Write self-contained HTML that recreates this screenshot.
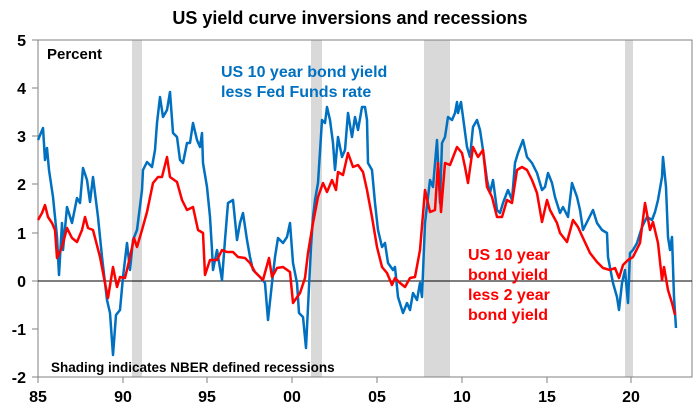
<!DOCTYPE html>
<html><head><meta charset="utf-8"><style>
body{margin:0;background:#fff;}
svg{display:block;font-family:"Liberation Sans",Arial,sans-serif;}
</style></head><body>
<svg width="700" height="413" viewBox="0 0 700 413">
<text x="350" y="24" text-anchor="middle" font-size="18" font-weight="bold">US yield curve inversions and recessions</text>
<g fill="#d9d9d9">
<rect x="132" y="40" width="10" height="337"/>
<rect x="311" y="40" width="11" height="337"/>
<rect x="424" y="40" width="26" height="337"/>
<rect x="625" y="40" width="8" height="337"/>
</g>
<rect x="38" y="40" width="654" height="337" fill="none" stroke="#808080" stroke-width="1"/>
<line x1="38" y1="281" x2="692" y2="281" stroke="#000" stroke-width="1"/>
<g stroke="#808080">
<line x1="32" y1="40" x2="38" y2="40"/><line x1="32" y1="88" x2="38" y2="88"/><line x1="32" y1="136" x2="38" y2="136"/><line x1="32" y1="184" x2="38" y2="184"/><line x1="32" y1="233" x2="38" y2="233"/><line x1="32" y1="281" x2="38" y2="281"/><line x1="32" y1="329" x2="38" y2="329"/><line x1="32" y1="377" x2="38" y2="377"/>
<line x1="38" y1="377" x2="38" y2="383"/><line x1="123" y1="377" x2="123" y2="383"/><line x1="207" y1="377" x2="207" y2="383"/><line x1="292" y1="377" x2="292" y2="383"/><line x1="377" y1="377" x2="377" y2="383"/><line x1="462" y1="377" x2="462" y2="383"/><line x1="547" y1="377" x2="547" y2="383"/><line x1="631" y1="377" x2="631" y2="383"/>
</g>
<g font-size="16" font-weight="bold" text-anchor="end">
<text x="26" y="46">5</text><text x="26" y="94">4</text><text x="26" y="142">3</text><text x="26" y="190">2</text><text x="26" y="239">1</text><text x="26" y="287">0</text><text x="26" y="335">-1</text><text x="26" y="383">-2</text>
</g>
<g font-size="16" font-weight="bold" text-anchor="middle">
<text x="38" y="402">85</text><text x="123" y="402">90</text><text x="207" y="402">95</text><text x="292" y="402">00</text><text x="377" y="402">05</text><text x="462" y="402">10</text><text x="547" y="402">15</text><text x="631" y="402">20</text>
</g>
<text x="47" y="59" font-size="15" font-weight="bold">Percent</text>
<text x="51" y="372" font-size="13.5" font-weight="bold">Shading indicates NBER defined recessions</text>
<g font-size="16" font-weight="bold" fill="#0070c0"><text x="221" y="77">US 10 year bond yield</text><text x="221" y="97">less Fed Funds rate</text></g>
<g font-size="16" font-weight="bold" fill="#ff0000"><text x="468" y="260">US 10 year</text><text x="468" y="280">bond yield</text><text x="468" y="300">less 2 year</text><text x="468" y="320">bond yield</text></g>
<polyline fill="none" stroke="#0070c0" stroke-width="2.5" stroke-linejoin="round" points="38,140 43,128 45,160 47,148 49,170 53,197 57,237 59,275 62,223 63,250 67,207 72,223 77,198 80,203 83,168 87,180 90,202 93,177 98,217 102,257 107,300 110,313 113,355 116,315 120,310 123,277 127,243 130,270 133,240 137,230 142,190 143,170 147,162 152,167 155,150 157,123 160,97 163,117 167,110 170,92 173,133 177,137 180,160 183,163 187,143 190,143 193,123 197,140 200,147 202,133 203,163 207,187 210,217 212,250 213,270 217,250 222,280 225,240 228,203 233,200 237,240 240,223 243,213 247,240 250,257 253,270 260,277 265,283 268,320 272,283 275,257 278,238 283,243 287,237 290,223 293,263 297,283 299,313 303,317 306,348 308,307 311,247 313,217 315,200 318,183 322,120 325,123 327,107 330,120 333,143 335,170 338,137 342,157 345,150 348,113 352,137 355,117 358,130 362,107 365,107 367,120 368,163 372,170 375,203 378,230 382,247 385,243 388,263 393,270 395,267 398,297 403,313 407,303 410,310 413,293 417,300 420,283 422,297 425,223 430,180 433,187 437,140 440,203 442,143 445,137 448,117 452,120 455,113 457,102 458,113 461,102 463,117 467,147 470,157 473,127 477,120 480,130 483,150 487,180 490,193 493,180 497,210 500,213 503,203 508,190 512,200 515,163 518,153 523,140 527,157 532,163 537,173 542,190 545,187 548,173 552,183 555,197 560,213 563,207 568,217 572,183 577,197 580,210 583,230 588,220 593,210 597,223 602,230 607,233 608,257 613,283 617,297 619,310 622,283 625,270 628,303 630,253 633,250 637,243 642,227 647,217 652,220 655,212 658,200 662,177 663,157 666,187 668,237 670,250 672,237 674,297 676,328"/>
<polyline fill="none" stroke="#ff0000" stroke-width="2.5" stroke-linejoin="round" points="38,220 42,213 45,205 48,217 52,223 55,230 57,258 62,247 67,228 72,238 77,242 82,230 85,217 88,228 93,230 100,257 105,283 108,298 113,267 117,287 120,277 125,278 130,257 134,238 137,247 142,230 147,212 153,183 158,177 162,177 167,157 170,177 177,182 182,200 187,210 193,207 198,230 203,233 205,275 210,260 217,260 222,250 227,252 233,252 238,257 245,258 250,263 255,272 263,280 269,258 272,277 277,268 283,267 290,272 293,303 300,293 305,278 308,253 313,223 318,197 323,183 327,192 332,180 336,190 338,172 343,175 348,153 353,167 358,165 363,172 367,190 372,217 377,247 382,267 387,273 392,285 395,278 400,283 405,287 410,278 415,277 420,250 425,190 430,212 435,210 438,163 441,212 445,163 450,165 457,147 462,153 465,167 468,183 473,147 478,157 483,150 487,187 492,197 497,217 502,217 507,200 512,203 517,170 522,167 527,170 532,180 537,193 542,222 547,200 550,210 557,223 560,233 567,242 573,220 578,227 583,238 590,253 597,262 603,268 610,270 615,268 619,278 623,265 628,260 633,257 640,243 645,203 650,230 653,222 658,243 662,280 664,267 668,290 672,303 675,315"/>
</svg>
</body></html>
